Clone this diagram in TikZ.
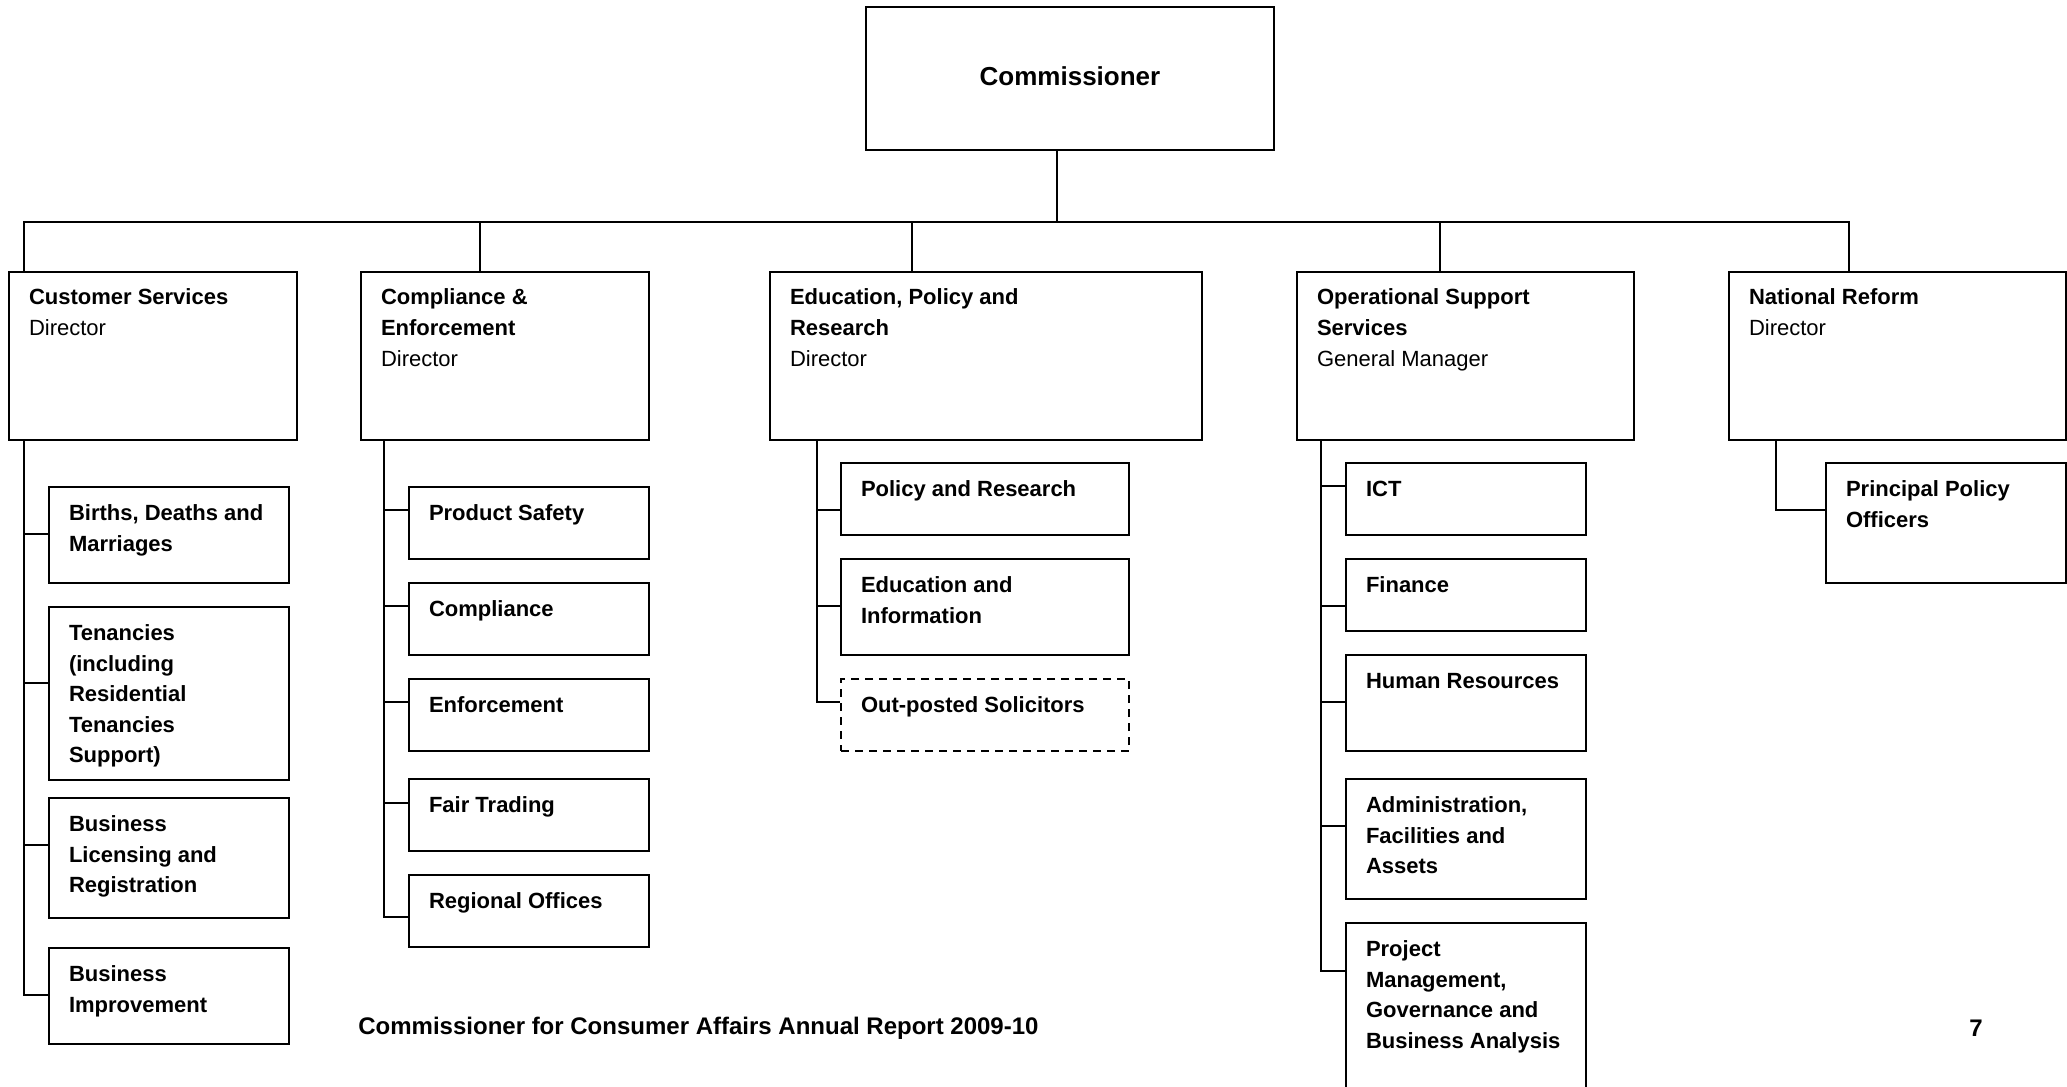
\documentclass[tikz,border=0pt]{standalone}
\usepackage{fontspec}
\setmainfont{Liberation Sans}
\usetikzlibrary{positioning}
% text of a box: fixed height, set from the top
\newcommand{\inbox}[3]{\parbox[c][#1][t]{#2}{\raggedright\strut #3}}

\begin{document}
\begin{tikzpicture}[
  x=0.5pt, y=-0.5pt,
  box/.style={draw, line width=1pt, inner xsep=10pt, inner ysep=6pt, font=\fontsize{11}{15.3}\selectfont\bfseries},
  head/.style={box, anchor=north west},
  dashbox/.style={box, dash pattern=on 4pt off 3pt},
  link/.style={draw, line width=0.75pt},
  foot/.style={font=\fontsize{12}{14}\selectfont\bfseries, inner sep=0pt}
]
\useasboundingbox (0,0) rectangle (2067,1087);
\fill[white] (0,0) rectangle (2067,1087);

% top
\node[draw, line width=1pt, anchor=north west, minimum width=204pt, minimum height=71.5pt,
      font=\fontsize{13}{16}\selectfont\bfseries] (com) at (865,6) {\raisebox{2.5pt}{Commissioner}};

% directors
\node[head] (cs)  at (8,270.5)    {\inbox{72pt}{124pt}{Customer Services\\{\mdseries Director}}};
\node[head] (ce)  at (360,270.5)  {\inbox{72pt}{124pt}{Compliance \&\\Enforcement\\{\mdseries Director}}};
\node[head] (epr) at (769,270.5)  {\inbox{72pt}{196pt}{Education, Policy and\\Research\\{\mdseries Director}}};
\node[head] (oss) at (1296,270.5) {\inbox{72pt}{148.5pt}{Operational Support\\Services\\{\mdseries General Manager}}};
\node[head] (nr)  at (1728,270.5) {\inbox{72pt}{148.5pt}{National Reform\\{\mdseries Director}}};

% customer services
\node[head] (bdm) at (48,486) {\inbox{36pt}{100pt}{Births, Deaths and\\Marriages}};
\node[box, below=11pt of bdm] (ten) {\inbox{74.5pt}{100pt}{Tenancies\\(including\\Residential\\Tenancies\\Support)}};
\node[box, below=8pt of ten]  (blr) {\inbox{48pt}{100pt}{Business\\Licensing and\\Registration}};
\node[box, below=14pt of blr] (bi)  {\inbox{36pt}{100pt}{Business\\Improvement}};

% compliance and enforcement
\node[head] (ps) at (408,486) {\inbox{24pt}{100pt}{Product Safety}};
\node[box, below=11pt of ps]   (comp) {\inbox{24pt}{100pt}{Compliance}};
\node[box, below=11pt of comp] (enf)  {\inbox{24pt}{100pt}{Enforcement}};
\node[box, below=13pt of enf]  (ft)   {\inbox{24pt}{100pt}{Fair Trading}};
\node[box, below=11pt of ft]   (ro)   {\inbox{24pt}{100pt}{Regional Offices}};

% education, policy and research
\node[head] (pr) at (840,462) {\inbox{24pt}{124pt}{Policy and Research}};
\node[box, below=11pt of pr]     (ei) {\inbox{36pt}{124pt}{Education and\\Information}};
\node[dashbox, below=11pt of ei] (os) {\inbox{24pt}{124pt}{Out-posted Solicitors}};

% operational support services
\node[head] (ict) at (1345,462) {\inbox{24pt}{100pt}{ICT}};
\node[box, below=11pt of ict] (fin) {\inbox{24pt}{100pt}{Finance}};
\node[box, below=11pt of fin] (hr)  {\inbox{36pt}{100pt}{Human Resources}};
\node[box, below=13pt of hr]  (adm) {\inbox{48pt}{100pt}{Administration,\\Facilities and\\Assets}};
\node[box, below=11pt of adm] (pm)  {\inbox{88pt}{100pt}{Project\\Management,\\Governance and\\Business Analysis}};

% national reform
\node[head] (ppo) at (1825,462) {\inbox{48pt}{100pt}{Principal Policy\\Officers}};

% commissioner to directors
\coordinate (hub) at (1057,222);
\draw[link] (com.south -| hub) -- (hub);
\draw[link] ([xshift=8pt]cs.north west)    |- (hub);
\draw[link] ([xshift=60pt]ce.north west)   |- (hub);
\draw[link] ([xshift=71.5pt]epr.north west) |- (hub);
\draw[link] ([xshift=72pt]oss.north west)  |- (hub);
\draw[link] ([xshift=60.5pt]nr.north west) |- (hub);

% spines
\coordinate (cs-sp)  at ([xshift=8pt]cs.south west);
\coordinate (ce-sp)  at ([xshift=12pt]ce.south west);
\coordinate (epr-sp) at ([xshift=24pt]epr.south west);
\coordinate (oss-sp) at ([xshift=12.5pt]oss.south west);
\coordinate (nr-sp)  at ([xshift=24pt]nr.south west);

\draw[link] ([yshift=-24pt]bdm.north west) -| (cs-sp);
\draw[link] ([yshift=-38.5pt]ten.north west) -| (cs-sp);
\draw[link] ([yshift=-24pt]blr.north west) -| (cs-sp);
\draw[link] ([yshift=-24pt]bi.north west) -| (cs-sp);

\draw[link] ([yshift=-12pt]ps.north west) -| (ce-sp);
\draw[link] ([yshift=-12pt]comp.north west) -| (ce-sp);
\draw[link] ([yshift=-12pt]enf.north west) -| (ce-sp);
\draw[link] ([yshift=-12.5pt]ft.north west) -| (ce-sp);
\draw[link] ([yshift=-21.5pt]ro.north west) -| (ce-sp);

\draw[link] ([yshift=-24pt]pr.north west) -| (epr-sp);
\draw[link] ([yshift=-24pt]ei.north west) -| (epr-sp);
\draw[link] ([yshift=-12pt]os.north west) -| (epr-sp);

\draw[link] ([yshift=-12pt]ict.north west) -| (oss-sp);
\draw[link] ([yshift=-24pt]fin.north west) -| (oss-sp);
\draw[link] ([yshift=-24pt]hr.north west) -| (oss-sp);
\draw[link] ([yshift=-24pt]adm.north west) -| (oss-sp);
\draw[link] ([yshift=-24.5pt]pm.north west) -| (oss-sp);

\draw[link] ([yshift=-24pt]ppo.north west) -| (nr-sp);

% footer
\node[foot, anchor=west] (footer) at (358,1028) {Commissioner for Consumer Affairs Annual Report 2009-10};
\node[foot] (pageno) at (1976,1028) {7};
\end{tikzpicture}
\end{document}
